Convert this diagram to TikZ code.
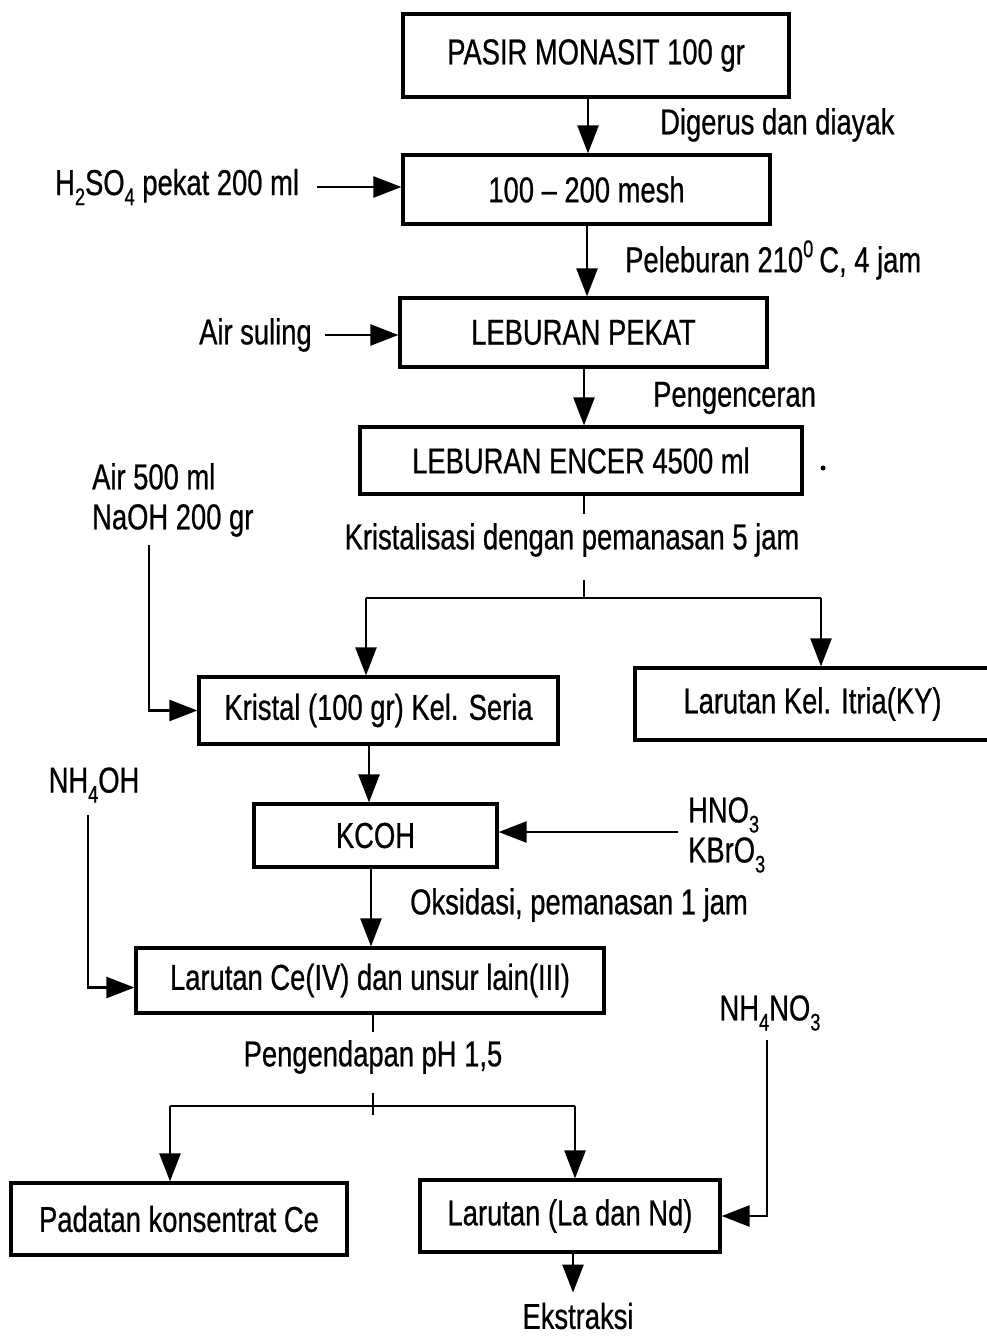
\documentclass[tikz,border=0pt]{standalone}
\usepackage{fontspec}
\setmainfont{Liberation Sans}[FakeStretch=0.76,FakeBold=0.6]
\usetikzlibrary{arrows.meta}
\newcommand{\chs}[1]{\raisebox{-0.28em}{\fontsize{24}{24}\selectfont #1}}
\newcommand{\chsup}[1]{\raisebox{0.42em}{\fontsize{24}{24}\selectfont #1}}
\begin{document}
\begin{tikzpicture}[x=1pt,y=-1pt,
  font=\fontsize{36}{44}\selectfont,
  box/.style={draw, line width=3.2pt, inner sep=0pt},
  lbl/.style={inner sep=0pt},
  arr/.style={line width=2.4pt, -{Triangle[length=28pt,width=21pt]}},
  ln/.style={line width=2.4pt}]
\useasboundingbox (0,0) rectangle (987,1336);

% boxes
\node[box, minimum width=386pt, minimum height=83pt] (b1) at (596,55.5) {PASIR MONASIT 100 gr};
\node[box, minimum width=367pt, minimum height=69pt] (b2) at (586.5,189.5) {100 -- 200 mesh};
\node[box, minimum width=367pt, minimum height=69pt] (b3) at (583.5,332.5) {LEBURAN PEKAT};
\node[box, minimum width=442pt, minimum height=67pt] (b4) at (581,460.5) {LEBURAN ENCER 4500 ml};
\node[box, minimum width=359pt, minimum height=67pt] (b5) at (378.5,710.5) {Kristal (100 gr) Kel. Seria};
\node[box, minimum width=355pt, minimum height=72pt] (b6) at (812.5,704) {Larutan Kel. Itria(KY)};
\node[box, minimum width=243pt, minimum height=63pt] (b7) at (375.5,835.5) {KCOH};
\node[box, minimum width=468pt, minimum height=65pt] (b8) at (370,980.5) {Larutan Ce(IV) dan unsur lain(III)};
\node[box, minimum width=336pt, minimum height=72pt] (b9) at (179,1219) {Padatan konsentrat Ce};
\node[box, minimum width=300pt, minimum height=72pt] (b10) at (570,1216) {Larutan (La dan Nd)};

% labels
\node[lbl, anchor=west] (l1) at (660,125) {Digerus dan diayak};
\node[lbl, anchor=west] (l2) at (625,260) {Peleburan 210\chsup{0}\,C, 4 jam};
\node[lbl, anchor=west] (l3) at (653,398) {Pengenceran};
\node[lbl] (l4) at (572,540) {Kristalisasi dengan pemanasan 5 jam};
\node[lbl, anchor=west] (l5) at (410,905) {Oksidasi, pemanasan 1 jam};
\node[lbl] (l6) at (373,1057) {Pengendapan pH 1,5};
\node[lbl] (ek) at (578,1316) {Ekstraksi};

\node[lbl, anchor=west] (h2so4) at (55,187) {H\chs{2}SO\chs{4} pekat 200 ml};
\node[lbl, anchor=west] (air) at (199,335) {Air suling};
\node[lbl, anchor=west, align=left, font=\fontsize{36}{40}\selectfont] (naoh) at (92,500) {Air 500 ml\\NaOH 200 gr};
\node[lbl, anchor=west, align=left, font=\fontsize{36}{40}\selectfont] (hno3) at (688,835) {HNO\chs{3}\\KBrO\chs{3}};
\node[lbl] (nh4oh) at (94,785) {NH\chs{4}OH};
\node[lbl] (nh4no3) at (770,1013) {NH\chs{4}NO\chs{3}};
\node[circle, fill, inner sep=0pt, minimum size=5pt] (dot) at (823,468) {};

% coordinates
\coordinate (s1) at (584,598);
\coordinate (s2) at (373,1106);
\coordinate (c1) at (149,545);
\coordinate (c2) at (88,815);
\coordinate (c3) at (767,1040);

% main flow
\draw[arr] (b2.north -| 588,0) ++(0,-58) -- (b2.north -| 588,0);
\draw[arr] (b2.south -| 587,0) -- (b3.north -| 587,0);
\draw[arr] (b3.south -| 584,0) -- (b4.north -| 584,0);
\draw[ln] (b4.south -| 584,0) -- ++(0,18);
\draw[ln] (s1) ++(0,-18) -- (s1);
\draw[ln] (s1) -- (366,598);
\draw[ln] (s1) -- (821,598);
\draw[arr] (366,598) -- (b5.north -| 366,0);
\draw[arr] (821,598) -- (b6.north -| 821,0);
\draw[arr] (b5.south -| 369,0) -- (b7.north -| 369,0);
\draw[arr] (b7.south -| 371,0) -- (b8.north -| 371,0);
\draw[ln] (b8.south -| 373,0) -- ++(0,17);
\draw[ln] (s2) ++(0,-13) -- ++(0,22);
\draw[ln] (170,1106) -- (575,1106);
\draw[arr] (170,1106) -- (b9.north -| 170,0);
\draw[arr] (575,1106) -- (b10.north -| 575,0);
\draw[arr] (b10.south -| 573,0) -- ([yshift=10pt]ek.north -| 573,0);

% side inputs
\draw[arr] ([xshift=18pt]h2so4.east) -- (b2.west |- h2so4.east);
\draw[arr] ([xshift=13pt]air.east) -- (b3.west |- air.east);
\draw[arr] (c1) |- (b5.west);
\draw[arr] (678,832) -- (b7.east |- 0,832);
\draw[arr] (c2) |- ([yshift=-7pt]b8.west);
\draw[arr] (c3) |- (b10.east);
\end{tikzpicture}
\end{document}
